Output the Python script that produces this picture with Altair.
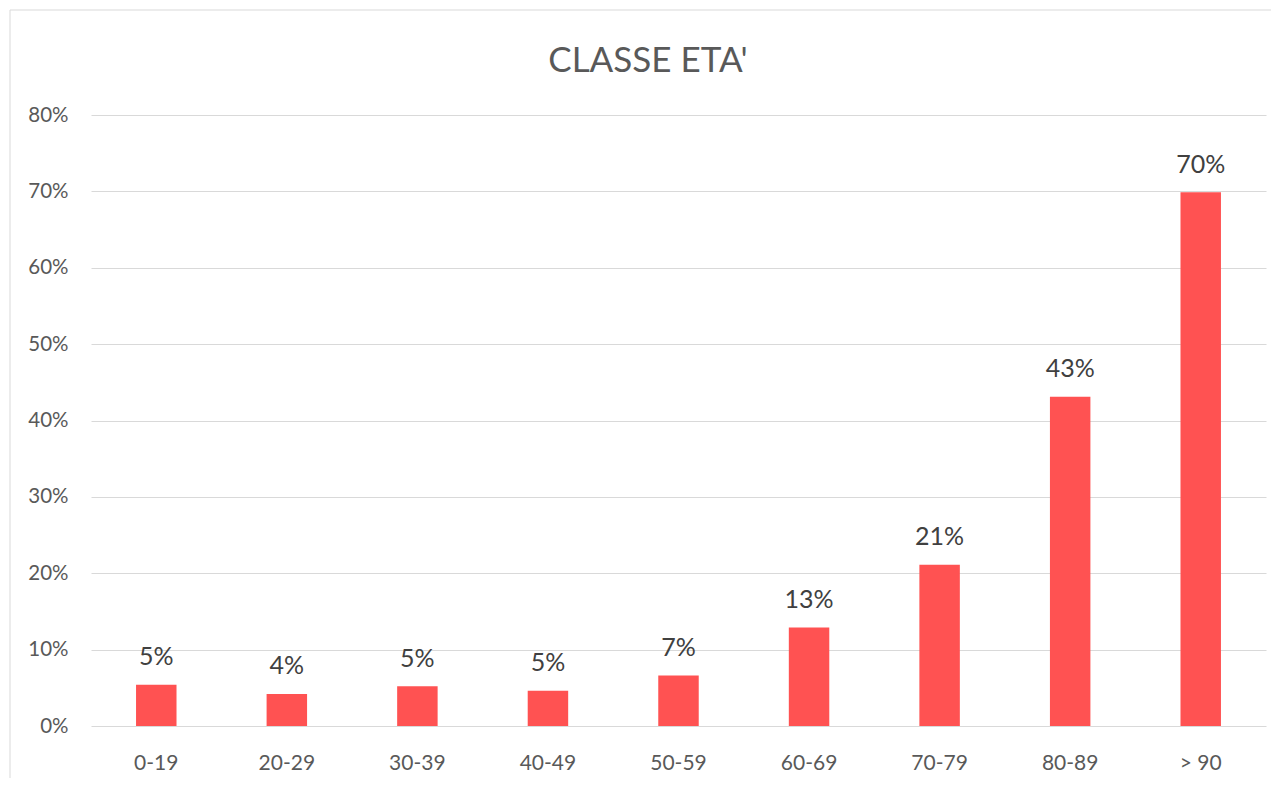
import altair as alt
import pandas as pd

categories = ["0-19", "20-29", "30-39", "40-49", "50-59", "60-69", "70-79", "80-89", "> 90"]
values = [0.054, 0.042, 0.052, 0.046, 0.066, 0.129, 0.211, 0.431, 0.699]
y_ticks = [0, 0.1, 0.2, 0.3, 0.4, 0.5, 0.6, 0.7, 0.8]
title_text = "CLASSE ETA'"

df = pd.DataFrame({"cat": categories, "val": values})

FONT = "Lato"
W, H = 1175, 611

x_enc = alt.X(
    "cat:N",
    sort=categories,
    scale=alt.Scale(paddingInner=0.69, paddingOuter=0.345),
    axis=alt.Axis(
        title=None, labelAngle=0, ticks=False, tickSize=0, domain=False, grid=False,
        labelFont=FONT, labelFontSize=21, labelColor="#595959", labelPadding=26,
    ),
)
y_enc = alt.Y(
    "val:Q",
    scale=alt.Scale(domain=[0, 0.8], nice=False),
    axis=alt.Axis(
        title=None, values=y_ticks, format=".0%", ticks=False, tickSize=0, domain=False,
        grid=True, gridColor="#d9d9d9", gridWidth=1,
        labelFont=FONT, labelFontSize=20.5, labelColor="#595959", labelPadding=23,
    ),
)

base = alt.Chart(df)
bars = base.mark_bar(color="#FF5252").encode(x=x_enc, y=y_enc)
labels = base.mark_text(
    font=FONT, fontSize=25, color="#404040", baseline="alphabetic", align="center", dy=-19.5
).encode(x=alt.X("cat:N", sort=categories), y="val:Q", text=alt.Text("val:Q", format=".0%"))

one = pd.DataFrame({"t": [title_text]})
title = alt.Chart(one).mark_text(
    font=FONT, fontSize=35, color="#595959", align="center", baseline="alphabetic"
).encode(x=alt.value(557), y=alt.value(-43), text="t:N")

frame_top = alt.Chart(one).mark_rule(color="#d9d9d9", strokeWidth=1).encode(
    x=alt.value(-81), x2=alt.value(1185), y=alt.value(-105)
)
frame_left = alt.Chart(one).mark_rule(color="#d9d9d9", strokeWidth=1).encode(
    x=alt.value(-81), y=alt.value(-105), y2=alt.value(670)
)

chart = alt.layer(frame_top, frame_left, bars, labels, title).properties(
    width=W, height=H,
    background="white",
    autosize=alt.AutoSizeParams(type="none"),
    padding={"left": 83, "top": 107, "right": 5, "bottom": 52},
).configure_view(stroke=None)

chart.save("out.html", embed_options={"renderer": "svg", "actions": False})
